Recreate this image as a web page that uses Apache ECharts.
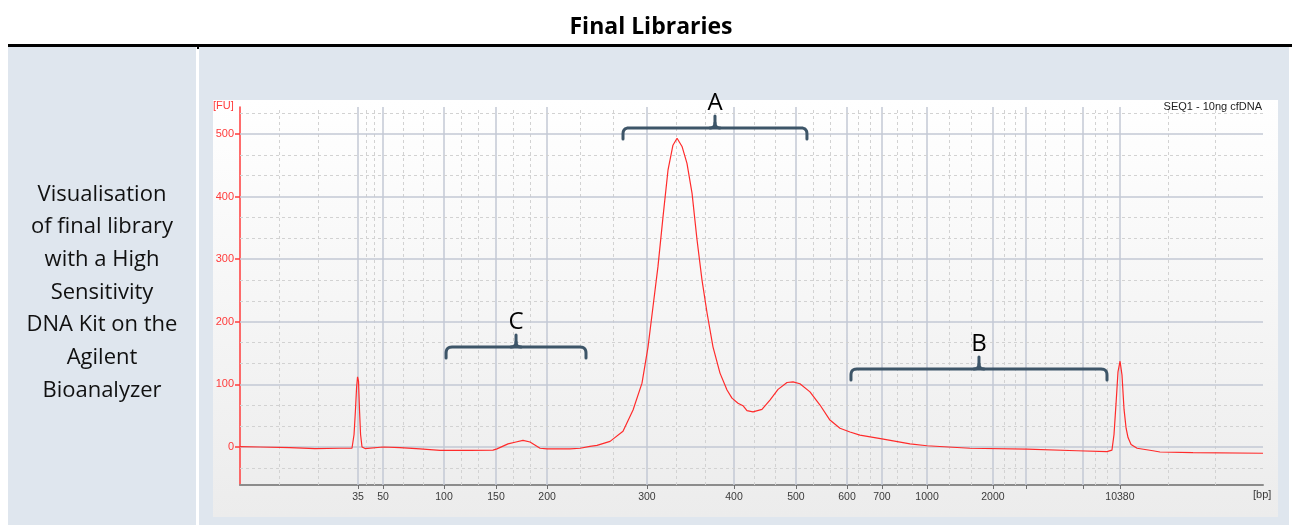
<!DOCTYPE html>
<html>
<head>
<meta charset="utf-8">
<script src="https://cdn.jsdelivr.net/npm/echarts@6/dist/echarts.min.js"></script>
<style>
html,body{margin:0;padding:0;background:#fff;}
#chart{width:1292px;height:525px;}
</style>
</head>
<body>
<div id="chart"></div>
<script>
// ---- Data ----
const ladderBp = [35, 50, 100, 150, 200, 300, 400, 500, 600, 700, 1000, 2000, 3000, 7000, 10380];
const ladderTime = [43.00, 45.07, 50.11, 54.41, 58.63, 66.89, 74.09, 79.21, 83.43, 86.32, 90.05, 95.50, 98.23, 102.94, 106.00];
const labeledBp = [35, 50, 100, 150, 200, 300, 400, 500, 600, 700, 1000, 2000, 10380];
const edgeMinorTime = [36.47, 39.69, 109.97, 113.86];
const fuTicks = [0, 100, 200, 300, 400, 500];

const migrationTime = [33.24, 34.90, 37.38, 39.44, 41.51, 42.50, 42.67, 42.79, 42.88, 42.96, 43.04, 43.12, 43.21, 43.33, 43.58, 45.07, 46.47, 48.13, 49.78, 52.26, 54.16, 54.49, 55.40, 56.06, 56.64, 57.22, 58.05, 58.63, 60.53, 61.36, 62.18, 62.76, 63.84, 64.91, 65.74, 66.48, 66.98, 67.39, 67.80, 68.22, 68.63, 69.04, 69.38, 69.79, 70.20, 70.62, 71.03, 71.44, 71.86, 72.35, 72.93, 73.51, 73.92, 74.42, 74.83, 75.16, 75.66, 76.40, 77.06, 77.73, 78.47, 78.97, 79.54, 80.37, 81.20, 82.02, 82.85, 83.68, 84.50, 86.32, 88.64, 90.04, 93.60, 98.31, 102.45, 104.93, 105.34, 105.51, 105.68, 105.84, 106.01, 106.17, 106.34, 106.51, 106.67, 106.92, 107.42, 108.73, 109.31, 112.04, 117.83];
const fluorescence = [0.5, 0, -1, -2.5, -2, -2, 20, 60, 95, 112, 105, 60, 20, 0, -2.5, 0, -1, -3, -5.5, -5.5, -5, -3, 5, 8, 10.5, 8, -2, -3, -3, -2, 1, 2.5, 9, 25, 59, 102, 160, 224, 288, 368, 442, 482, 493, 480, 453, 405, 331, 267, 214, 160, 118, 91, 78, 70, 66, 58, 56, 60, 75, 92, 103, 104, 101, 88, 67, 43, 30, 24, 19, 13, 5, 2, -2, -3.5, -6, -7.5, -5, 20, 70, 120, 137, 115, 60, 30, 15, 4, -2, -6, -8, -9, -10];

// bracket annotations: [start time, end time, FU level]
const bracketLabels = ['A', 'C', 'B'];
const bracketStart = [64.91, 50.28, 83.76];
const bracketEnd = [80.12, 61.85, 104.93];
const bracketLevel = [509.6, 159.7, 124.6];

const sideText = ['Visualisation', 'of final library', 'with a High', 'Sensitivity', 'DNA Kit on the', 'Agilent', 'Bioanalyzer'];

// ---- Build ----
const X_MIN = 33.24, X_MAX = 117.83, Y_MIN = -60.7, Y_MAX = 543;
const labeledTime = labeledBp.map(b => ladderTime[ladderBp.indexOf(b)]);
function bpFor(t) {
  let best = 0, d = 1e9;
  ladderTime.forEach((lt, i) => { if (Math.abs(lt - t) < d) { d = Math.abs(lt - t); best = i; } });
  return String(ladderBp[best]);
}
const minorX = edgeMinorTime.slice();
for (let i = 0; i < ladderTime.length - 1; i++) {
  const a = ladderTime[i], b = ladderTime[i + 1];
  minorX.push(a + (b - a) / 3, a + 2 * (b - a) / 3);
}
const minorY = [];
[-100].concat(fuTicks).forEach(m => {
  [m + 100 / 3, m + 200 / 3].forEach(v => { if (v > Y_MIN && v < Y_MAX && fuTicks.indexOf(Math.round(v)) < 0) minorY.push(v); });
});

const solid = {color: '#c3c9d4', width: 1.5, type: 'solid'};
const dashed = {color: '#d2d2d2', width: 1, type: [3, 3]};
const gridLines = [];
ladderTime.forEach(t => gridLines.push({xAxis: t, lineStyle: solid}));
minorX.forEach(t => gridLines.push({xAxis: t, lineStyle: dashed}));
fuTicks.forEach(v => gridLines.push({yAxis: v, lineStyle: solid}));
minorY.forEach(v => gridLines.push({yAxis: v, lineStyle: dashed}));

const curve = migrationTime.map((t, i) => [t, fluorescence[i]]);
const bracketData = bracketLabels.map((l, i) => [bracketStart[i], bracketEnd[i], bracketLevel[i]]);

function quad(p0, c, p1, n) {
  const pts = [];
  for (let k = 1; k <= n; k++) {
    const s = k / n;
    pts.push([(1 - s) * (1 - s) * p0[0] + 2 * (1 - s) * s * c[0] + s * s * p1[0],
              (1 - s) * (1 - s) * p0[1] + 2 * (1 - s) * s * c[1] + s * s * p1[1]]);
  }
  return pts;
}

const chart = echarts.init(document.getElementById('chart'), null, {renderer: 'canvas'});
const option = {
  animation: false,
  backgroundColor: '#ffffff',
  grid: {left: 240, right: 29, top: 107, bottom: 40, containLabel: false},
  xAxis: {
    type: 'value', min: X_MIN, max: X_MAX,
    axisLine: {show: true, onZero: false, lineStyle: {color: '#8c8c8c', width: 2}},
    axisTick: {show: true, customValues: ladderTime, length: 4, lineStyle: {color: '#6e6e6e', width: 1}},
    axisLabel: {customValues: labeledTime, formatter: v => bpFor(v), color: '#3a3a3a', fontSize: 10.5, fontFamily: 'Liberation Sans', margin: 7},
    splitLine: {show: false}
  },
  yAxis: {
    type: 'value', min: Y_MIN, max: Y_MAX,
    axisLine: {show: true, onZero: false, lineStyle: {color: '#ff3b3b', width: 1.5}},
    axisTick: {show: true, customValues: fuTicks, length: 5, lineStyle: {color: '#ff3b3b', width: 1.5}},
    axisLabel: {customValues: fuTicks, color: '#ff3b3b', fontSize: 11, fontFamily: 'Liberation Sans', margin: 6},
    splitLine: {show: false}
  },
  graphic: [
    {type: 'rect', z: -10, shape: {x: 8, y: 44, width: 1284, height: 3}, style: {fill: '#000'}},
    {type: 'rect', z: -10, shape: {x: 8, y: 47, width: 188, height: 478}, style: {fill: '#dfe6ee'}},
    {type: 'rect', z: -10, shape: {x: 199, y: 47, width: 1090, height: 478}, style: {fill: '#dfe6ee'}},
    {type: 'rect', z: -10, shape: {x: 197, y: 44, width: 2, height: 5}, style: {fill: '#000'}},
    {type: 'rect', z: -9, shape: {x: 213, y: 100, width: 1065, height: 417},
      style: {fill: new echarts.graphic.LinearGradient(0, 0, 0, 1, [{offset: 0, color: '#ffffff'}, {offset: 1, color: '#ececec'}])}},
    {type: 'text', z: 10, x: 651, y: 27, style: {text: 'Final Libraries', fontFamily: 'Open Sans', fontWeight: 'bold', fontSize: 23, fill: '#000', align: 'center', verticalAlign: 'middle'}},
    {type: 'text', z: 10, x: 102, y: 178, style: {text: sideText.join('\n'), fontFamily: 'Open Sans', fontSize: 22, lineHeight: 32.7, fill: '#111', align: 'center', verticalAlign: 'top'}},
    {type: 'text', z: 10, x: 213, y: 100, style: {text: '[FU]', fontFamily: 'Liberation Sans', fontSize: 11, fill: '#ff3b3b'}},
    {type: 'text', z: 10, x: 1262, y: 101, style: {text: 'SEQ1 - 10ng cfDNA', fontFamily: 'Liberation Sans', fontSize: 11, fill: '#222', align: 'right'}},
    {type: 'text', z: 10, x: 1253, y: 489, style: {text: '[bp]', fontFamily: 'Liberation Sans', fontSize: 11, fill: '#3a3a3a'}}
  ],
  series: [
    {
      type: 'line', name: 'grid', data: [], silent: true, z: 1,
      markLine: {silent: true, symbol: ['none', 'none'], label: {show: false}, animation: false, data: gridLines}
    },
    {
      type: 'line', name: 'SEQ1 - 10ng cfDNA', data: curve, showSymbol: false, z: 5,
      lineStyle: {color: '#ff2b2b', width: 1.2}, itemStyle: {color: '#ff2b2b'}
    },
    {
      type: 'custom', name: 'brackets', data: bracketData, z: 8, clip: false, silent: true,
      renderItem: function (params, api) {
        const p0 = api.coord([api.value(0), api.value(2)]);
        const p1 = api.coord([api.value(1), api.value(2)]);
        const x0 = p0[0], x1 = p1[0], y = p0[1], xc = (x0 + x1) / 2;
        let pts = [[x0, y + 11], [x0, y + 6]];
        pts = pts.concat(quad([x0, y + 6], [x0, y], [x0 + 6, y], 6));
        pts.push([x1 - 6, y]);
        pts = pts.concat(quad([x1 - 6, y], [x1, y], [x1, y + 6], 6));
        pts.push([x1, y + 11]);
        let stub = quad([xc - 5, y], [xc, y], [xc, y - 5], 5);
        stub.unshift([xc - 5, y]);
        stub.push([xc, y - 12]);
        let stub2 = [[xc + 5, y]].concat(quad([xc + 5, y], [xc, y], [xc, y - 5], 5));
        const st = {stroke: '#3d5568', lineWidth: 3, fill: null, lineCap: 'round', lineJoin: 'round'};
        return {type: 'group', children: [
          {type: 'polyline', shape: {points: pts}, style: st},
          {type: 'polyline', shape: {points: stub}, style: st},
          {type: 'polyline', shape: {points: stub2}, style: st},
          {type: 'text', x: xc, y: y - 13, style: {text: bracketLabels[params.dataIndex], fontFamily: 'Open Sans', fontSize: 24, fill: '#000', align: 'center', verticalAlign: 'bottom'}}
        ]};
      }
    }
  ]
};
chart.setOption(option);
</script>
</body>
</html>
